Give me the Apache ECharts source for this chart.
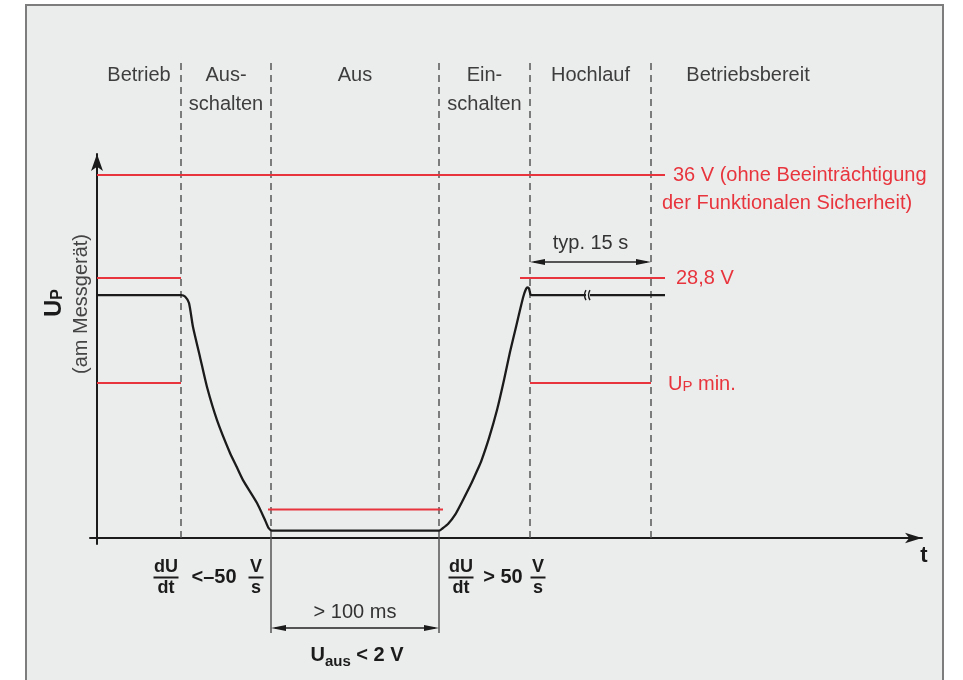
<!DOCTYPE html>
<html>
<head>
<meta charset="utf-8">
<script src="https://cdn.jsdelivr.net/npm/echarts@6/dist/echarts.min.js"></script>
<style>
  html, body { margin: 0; padding: 0; background: #ffffff; }
  #chart { width: 963px; height: 680px; }
</style>
</head>
<body>
<div id="chart"></div>
<script>
// ---------------------------------------------------------------------------
// Supply-voltage cycle of the measuring device (schematic time axis, volts)
// ---------------------------------------------------------------------------
const phaseLabels = [['Betrieb'], ['Aus-', 'schalten'], ['Aus'], ['Ein-', 'schalten'], ['Hochlauf'], ['Betriebsbereit']];
const phaseEdges = [0, 84, 174, 342, 433, 554, 748];

// U_P over time [schematic time unit, V]
const supplyTrace = [
  [0, 27.6], [84, 27.6], [88, 27.51], [92, 27.05], [96, 25.37], [103, 23.28], [110, 21.18],
  [120, 18.87], [133, 16.57], [139.5, 15.63], [139.6, 5.0], [146, 4.05], [160, 2.45],
  [168, 1.26], [171.5, 0.70], [175, 0.51],
  [342, 0.51], [346, 0.70], [351, 0.98], [358, 1.61], [366, 2.66], [375, 3.91], [382, 5.0],
  [382.1, 15.63], [384, 15.94], [392, 17.61], [400, 19.57], [407, 21.67], [413, 23.63],
  [419, 25.37], [423, 26.56], [426.5, 27.54], [429, 28.03], [430.5, 28.15], [432, 28.07],
  [433.5, 27.65], [435, 27.6], [568, 27.6]
];
// time-axis interruption drawn on the trace during "Hochlauf"
const timeBreak = [[491, 27.6]];

// voltage limits [V] and their extent on the time axis
const limitLevels = [36, 28.8, 28.8, 21.46, 21.46, 2];
const limitStart  = [0, 0, 423, 0, 433, 171];
const limitEnd    = [568, 84, 568, 84, 554, 346];
const limitText   = [
  '{a|36 V (ohne Beeinträchtigung}\n{b|der Funktionalen Sicherheit)}',
  '', '28,8 V', '', '{u|U}{p|P}{u| min.}', ''
];

// ---------------------------------------------------------------------------
const FONT = '"Liberation Sans", Arial, sans-serif';
const RED = '#e8353d';
const INK = '#1b1b1b';
const TXT = '#3e3e3e';
const PANEL = '#ebecec';

const chart = echarts.init(document.getElementById('chart'));

const labelDistance = [-3, 0, 11, 0, 17, 0];

const limitSeries = limitLevels.map((v, i) => ({
  type: 'line',
  name: 'limit' + i,
  data: [[limitStart[i], v], [limitEnd[i], v]],
  symbol: 'none',
  silent: true,
  z: 3,
  lineStyle: { color: RED, width: 2 },
  endLabel: {
    show: limitText[i] !== '',
    formatter: () => limitText[i],
    distance: labelDistance[i],
    color: RED,
    fontFamily: FONT,
    fontSize: 20,
    padding: i === 0 ? [28, 0, 0, 0] : 0,
    lineHeight: 28,
    rich: {
      a: { color: RED, fontFamily: FONT, fontSize: 20, lineHeight: 28, padding: [0, 0, 0, 11] },
      b: { color: RED, fontFamily: FONT, fontSize: 20, lineHeight: 28 },
      u: { color: RED, fontFamily: FONT, fontSize: 20, lineHeight: 22, verticalAlign: 'bottom' },
      p: { color: RED, fontFamily: FONT, fontSize: 15, lineHeight: 19, verticalAlign: 'bottom' }
    }
  }
}));

const option = {
  animation: false,
  backgroundColor: '#ffffff',
  grid: { left: 90, right: 41, top: 154, bottom: 136, containLabel: false, outerBoundsMode: 'none' },
  xAxis: {
    type: 'value', min: -7, max: 825,
    axisLine: { onZero: true, symbol: ['none', 'arrow'], symbolSize: [8, 17], lineStyle: { color: INK, width: 2 } },
    axisTick: { show: false }, axisLabel: { show: false }, splitLine: { show: false }
  },
  yAxis: {
    type: 'value', min: -0.42, max: 37.47,
    breaks: [{ start: 5, end: 15.625, gap: 0.001 }],
    breakArea: { show: false },
    axisLine: { onZero: true, symbol: ['none', 'arrow'], symbolSize: [9, 17], lineStyle: { color: INK, width: 2 } },
    axisTick: { show: false }, axisLabel: { show: false }, splitLine: { show: false }
  },
  series: [
    ...limitSeries,
    {
      type: 'line', name: 'U_P', data: supplyTrace, symbol: 'none', silent: true, z: 4,
      smooth: 0.2,
      lineStyle: { color: INK, width: 2.3, join: 'round' }
    },
    {
      type: 'custom', name: 'break', data: timeBreak, silent: true, z: 5,
      renderItem: (params, api) => {
        const p = api.coord([api.value(0), api.value(1)]);
        const x = p[0], y = p[1];
        return {
          type: 'group',
          children: [
            { type: 'rect', shape: { x: x - 2, y: y - 3, width: 4, height: 6 }, style: { fill: PANEL } },
            { type: 'bezierCurve', shape: { x1: x - 2, y1: y - 5, x2: x - 2, y2: y + 5, cpx1: x - 5, cpy1: y }, style: { stroke: INK, lineWidth: 1.4, fill: null } },
            { type: 'bezierCurve', shape: { x1: x + 2, y1: y - 5, x2: x + 2, y2: y + 5, cpx1: x - 1, cpy1: y }, style: { stroke: INK, lineWidth: 1.4, fill: null } }
          ]
        };
      }
    }
  ]
};

chart.setOption(option);

// ---------------------------------------------------------------------------
// Annotation layer: frame, phase boundaries, captions and dimension arrows
// ---------------------------------------------------------------------------
const px = v => chart.convertToPixel({ xAxisIndex: 0 }, v);
const axisY = chart.convertToPixel({ yAxisIndex: 0 }, 0);

function text(x, y, str, size, opts = {}) {
  return {
    type: 'text', x, y, z: 6, rotation: opts.rotation || 0,
    style: Object.assign({
      text: str, fill: opts.color || TXT, fontFamily: FONT, fontSize: size,
      fontWeight: opts.bold ? 'bold' : 'normal', align: 'center', verticalAlign: 'middle'
    }, opts.style || {})
  };
}
function dimArrow(x1, x2, y) {
  const L = 15, H = 3;
  return [
    { type: 'line', z: 6, shape: { x1: x1 + 4, y1: y, x2: x2 - 4, y2: y }, style: { stroke: '#222', lineWidth: 1.3 } },
    { type: 'polygon', z: 6, shape: { points: [[x1, y], [x1 + L, y - H], [x1 + L, y + H]] }, style: { fill: '#1b1b1b' } },
    { type: 'polygon', z: 6, shape: { points: [[x2, y], [x2 - L, y - H], [x2 - L, y + H]] }, style: { fill: '#1b1b1b' } }
  ];
}
function fraction(cx, num, den, barW) {
  return [
    text(cx, 567, num, 18, { bold: true, color: INK }),
    { type: 'line', z: 6, shape: { x1: cx - barW / 2, y1: 577.5, x2: cx + barW / 2, y2: 577.5 }, style: { stroke: INK, lineWidth: 2 } },
    text(cx, 588, den, 18, { bold: true, color: INK })
  ];
}

const els = [];
// panel
els.push({ type: 'rect', z: -100, shape: { x: 26, y: 5, width: 917, height: 700 }, style: { fill: PANEL, stroke: '#7d7d7d', lineWidth: 2 } });

// phase boundaries (dashed)
for (let i = 1; i < phaseEdges.length - 1; i++) {
  const x = px(phaseEdges[i]);
  els.push({ type: 'line', z: 1, shape: { x1: x, y1: 63, x2: x, y2: axisY }, style: { stroke: '#4d4d4d', lineWidth: 1.4, lineDash: [7, 5] } });
}
// phase captions
phaseLabels.forEach((lines, i) => {
  const cx = px((phaseEdges[i] + phaseEdges[i + 1]) / 2);
  lines.forEach((t, j) => els.push(text(cx, 75 + 29 * j, t, 20)));
});

// y-axis title
els.push({
  type: 'text', x: 53, y: 303, z: 6, rotation: Math.PI / 2,
  style: {
    text: '{U|U}{P|P}', align: 'center', verticalAlign: 'middle',
    rich: {
      U: { fontFamily: FONT, fontSize: 24, fontWeight: 'bold', fill: INK, lineHeight: 26, verticalAlign: 'bottom' },
      P: { fontFamily: FONT, fontSize: 16, fontWeight: 'bold', fill: INK, lineHeight: 20, verticalAlign: 'bottom' }
    }
  }
});
els.push(text(81, 304, '(am Messgerät)', 20, { rotation: Math.PI / 2, color: '#444' }));

// "typ. 15 s" span over the Hochlauf phase
const hx1 = px(phaseEdges[4]), hx2 = px(phaseEdges[5]);
els.push(...dimArrow(hx1, hx2, 262));
els.push(text((hx1 + hx2) / 2, 243, 'typ. 15 s', 20, { color: '#333' }));

// "> 100 ms" span over the Aus phase
const ax1 = px(phaseEdges[2]), ax2 = px(phaseEdges[3]);
[ax1, ax2].forEach(x => els.push({ type: 'line', z: 6, shape: { x1: x, y1: axisY, x2: x, y2: 633 }, style: { stroke: '#555', lineWidth: 1.5 } }));
els.push(...dimArrow(ax1, ax2, 628));
els.push(text((ax1 + ax2) / 2, 612, '> 100 ms', 20, { color: '#333' }));
els.push({
  type: 'text', x: (ax1 + ax2) / 2 + 2, y: 653, z: 6,
  style: {
    text: '{U|U}{s|aus}{U| < 2 V}', align: 'center', verticalAlign: 'middle',
    rich: {
      U: { fontFamily: FONT, fontSize: 20, fontWeight: 'bold', fill: INK, lineHeight: 24, verticalAlign: 'bottom' },
      s: { fontFamily: FONT, fontSize: 15, fontWeight: 'bold', fill: INK, lineHeight: 20, verticalAlign: 'bottom', padding: [0, 0, -4, 0] }
    }
  }
});

// slew-rate conditions
els.push(...fraction(166, 'dU', 'dt', 25));
els.push(text(214, 577, '<–50', 20, { bold: true, color: INK }));
els.push(...fraction(256, 'V', 's', 15));
els.push(...fraction(461, 'dU', 'dt', 25));
els.push(text(503, 577, '> 50', 20, { bold: true, color: INK }));
els.push(...fraction(538, 'V', 's', 15));

// time axis name
els.push(text(924, 556, 't', 22, { bold: true, color: INK }));

chart.setOption({ graphic: { elements: els } });
</script>
</body>
</html>
